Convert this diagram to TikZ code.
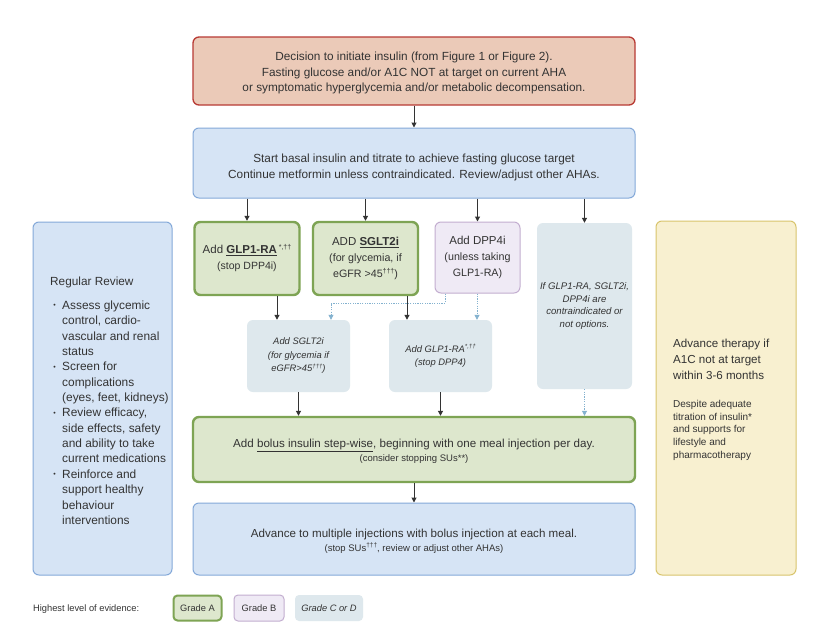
\documentclass[tikz,border=0pt]{standalone}
\usepackage{fontspec}
\setmainfont{Liberation Sans}
\usetikzlibrary{arrows.meta,calc}
\definecolor{txt}{HTML}{333333}
\definecolor{redfill}{HTML}{EBCAB8}
\definecolor{redline}{HTML}{B83A34}
\definecolor{bluefill}{HTML}{D6E4F5}
\definecolor{blueline}{HTML}{84A9D9}
\definecolor{greenfill}{HTML}{DDE7CD}
\definecolor{greenline}{HTML}{7EA454}
\definecolor{purplefill}{HTML}{EFEAF5}
\definecolor{purpleline}{HTML}{C3AED0}
\definecolor{greyfill}{HTML}{DEE8ED}
\definecolor{yellowfill}{HTML}{F8F0D0}
\definecolor{yellowline}{HTML}{D8C46C}
\definecolor{arrcol}{HTML}{333333}
\definecolor{dotcol}{HTML}{84B2CF}
\tikzset{
  box/.style={rounded corners=6pt, inner sep=0pt, align=center, text=txt},
  redbox/.style={box, draw=redline, fill=redfill, line width=1.3pt},
  bluebox/.style={box, draw=blueline, fill=bluefill, line width=1pt},
  greenbox/.style={box, draw=greenline, fill=greenfill, line width=2.4pt},
  purplebox/.style={box, draw=purpleline, fill=purplefill, line width=1pt},
  greybox/.style={box, fill=greyfill},
  yellowbox/.style={box, draw=yellowline, fill=yellowfill, line width=1pt},
  arr/.style={draw=arrcol, line width=1pt, -{Triangle[length=5pt,width=5pt]}},
  dotarr/.style={draw=dotcol, line width=0.8pt, dash pattern=on 1.2pt off 1.2pt, -{Triangle[length=5pt,width=5pt]}},
  lbl/.style={anchor=mid west, inner sep=0pt, text=txt},
  ctxt/.style={inner sep=0pt, align=center, text=txt},
}
\newcommand{\fs}[2]{\fontsize{#1}{#2}\selectfont}
\begin{document}
\begin{tikzpicture}[x=1pt,y=-1pt]
\useasboundingbox (0,0) rectangle (828,643);
\fill[white] (0,0) rectangle (828,643);

% main column
\node[redbox, minimum width=442, minimum height=68] (top) at (414,71) {};
\node[ctxt, font=\fs{11.8}{15.5}] (toptxt) at (414,73)
  {Decision to initiate insulin (from Figure 1 or Figure 2).\\Fasting glucose and/or A1C NOT at target on current AHA\\or symptomatic hyperglycemia and/or metabolic decompensation.};
\node[bluebox, minimum width=442, minimum height=70] (basal) at (414,163) {};
\node[ctxt, font=\fs{11.8}{16}] (basaltxt) at (414,167)
  {Start basal insulin and titrate to achieve fasting glucose target\\Continue metformin unless contraindicated. Review/adjust other AHAs.};

\node[greenbox, minimum width=105, minimum height=73, font=\fs{11.5}{16}] (glp) at (247,258.5)
  {Add \textbf{\underline{GLP1-RA}}\,{\fs{7}{8}\raisebox{4pt}{*,††}}\\{\fs{10.5}{16}(stop DPP4i)}};
\node[greenbox, minimum width=105, minimum height=73, font=\fs{11.5}{16}] (sglt) at (365.5,258.5)
  {ADD \textbf{\underline{SGLT2i}}\\{\fs{10.7}{16}(for glycemia, if}\\{\fs{10.7}{16}eGFR >45\raisebox{4pt}{\fs{7}{8}†††})}};
\node[purplebox, minimum width=85, minimum height=71, font=\fs{11.5}{16}] (dpp) at (477.5,257.5)
  {Add DPP4i\\{\fs{10.7}{16}(unless taking}\\{\fs{10.7}{16}GLP1-RA)}};
\node[greybox, minimum width=95, minimum height=166, font=\fs{9.6}{12.8}\itshape] (cont) at (584.5,306)
  {If GLP1-RA, SGLT2i,\\DPP4i are\\contraindicated or\\not options.};

\node[greybox, minimum width=103, minimum height=72, font=\fs{9.4}{13.5}\itshape] (sg2) at (298.5,356)
  {Add SGLT2i\\(for glycemia if\\eGFR>45\raisebox{3.5pt}{\fs{6}{7}†††})};
\node[greybox, minimum width=103, minimum height=72, font=\fs{9.4}{13.5}\itshape] (gl2) at (440.5,356)
  {Add GLP1-RA\raisebox{3.5pt}{\fs{6}{7}*,††}\\(stop DPP4)};

\node[greenbox, minimum width=442, minimum height=65] (bolus) at (414,449.5) {};
\node[ctxt, font=\fs{11.6}{14}] (bolustxt) at (414,451.5)
  {Add \underline{bolus insulin step-wise}, beginning with one meal injection per day.\\{\fs{9.5}{14}(consider stopping SUs**)}};
\node[bluebox, minimum width=442, minimum height=72] (multi) at (414,539) {};
\node[ctxt, font=\fs{11.6}{14}] (multitxt) at (414,541)
  {Advance to multiple injections with bolus injection at each meal.\\{\fs{9.5}{14}(stop SUs\raisebox{3.5pt}{\fs{6.5}{7}†††}, review or adjust other AHAs)}};

% arrows
\draw[arr] (top) -- (basal);
\draw[arr] (basal.south -| glp.north) -- (glp.north);
\draw[arr] (basal.south -| sglt.north) -- (sglt.north);
\draw[arr] (basal.south -| dpp.north) -- (dpp.north);
\draw[arr] (basal.south -| cont.north) -- (cont.north);
\coordinate (xa) at (277,0);
\coordinate (xb) at (407,0);
\coordinate (xc) at (445,0);
\coordinate (xd) at (331,0);
\coordinate (xe) at (477,0);
\coordinate (yd) at (0,303);
\draw[arr] (glp.south -| xa) -- (sg2.north -| xa);
\draw[arr] (sglt.south -| xb) -- (gl2.north -| xb);
\draw[dotarr] (dpp.south -| xc) -- (yd -| xc) -- (yd -| xd) -- (sg2.north -| xd);
\draw[dotarr] (dpp.south -| xe) -- (gl2.north -| xe);
\draw[arr] (sg2.south) -- (bolus.north -| sg2.south);
\draw[arr] (gl2.south) -- (bolus.north -| gl2.south);
\draw[dotarr] (cont.south) -- (bolus.north -| cont.south);
\draw[arr] (bolus) -- (multi);

% left review box
\node[bluebox, minimum width=139, minimum height=353] (review) at (102.5,398.5) {};
\node[lbl, font=\fs{11.8}{14}] (rr) at (50,283) {Regular Review};
\foreach \t [count=\i from 0] in {Assess glycemic,{control, cardio-},vascular and renal,status,Screen for,complications,{(eyes, feet, kidneys)},{Review efficacy,},{side effects, safety},and ability to take,current medications,Reinforce and,support healthy,behaviour,interventions}{
  \node[lbl, font=\fs{11.9}{14}] (rl\i) at (62,306.7+\i*15.36) {\t};
}
\foreach \i in {0,4,7,11}{
  \node[anchor=center, inner sep=0pt, text=txt, font=\fs{7}{8}] (bu\i) at (54.5,306.2+\i*15.36) {•};
}

% right yellow box
\node[yellowbox, minimum width=140, minimum height=354] (adv) at (726,398) {};
\foreach \t [count=\i from 0] in {Advance therapy if,A1C not at target,within 3-6 months}{
  \node[lbl, font=\fs{11.6}{14}] (ya\i) at (673,345+\i*16) {\t};
}
\foreach \t [count=\i from 0] in {Despite adequate,titration of insulin*,and supports for,lifestyle and,pharmacotherapy}{
  \node[lbl, font=\fs{10}{12}] (yb\i) at (673,405+\i*12.6) {\t};
}

% legend
\node[lbl, font=\fs{9.3}{11}] (leg) at (33,609) {Highest level of evidence:};
\node[greenbox, line width=2pt, rounded corners=4pt, minimum width=48, minimum height=25, font=\fs{9.3}{11}] (ga) at (197.5,608) {Grade A};
\node[purplebox, rounded corners=4pt, minimum width=50, minimum height=26, font=\fs{9.3}{11}] (gb) at (259,608) {Grade B};
\node[greybox, rounded corners=4pt, minimum width=68, minimum height=26, font=\fs{9.3}{11}\itshape] (gc) at (329,608) {Grade C or D};
\end{tikzpicture}
\end{document}
